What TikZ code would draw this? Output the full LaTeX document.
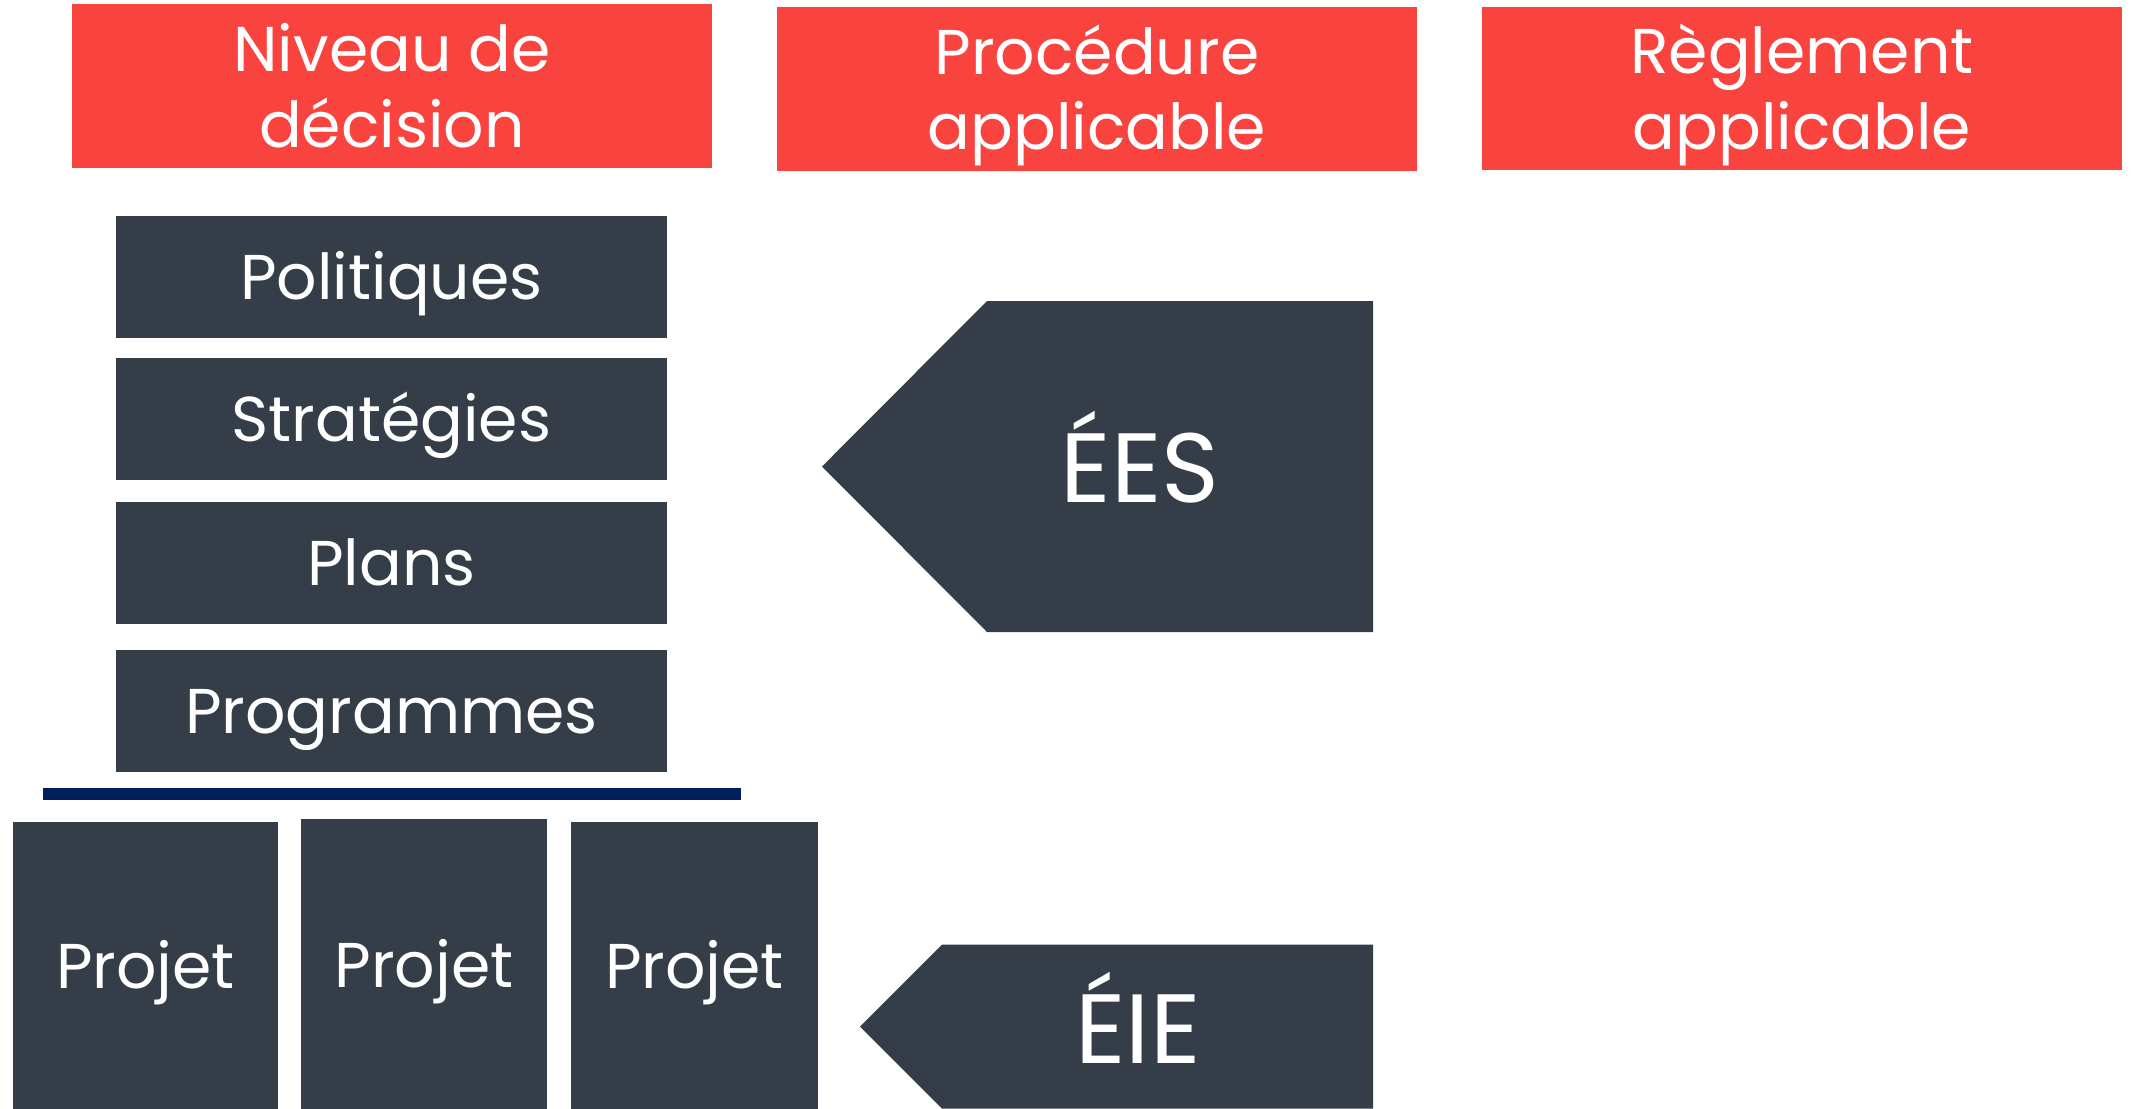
\documentclass[tikz,border=0pt]{standalone}
\usepackage{fontspec}
\setmainfont{Poppins}
\usetikzlibrary{positioning}
\definecolor{rouge}{RGB}{248,67,62}
\definecolor{ardoise}{RGB}{52,61,72}
\definecolor{marine}{RGB}{0,31,91}

\begin{document}
\begin{tikzpicture}[x=0.01cm, y=-0.01cm,
        entete/.style={fill=rouge, text=white, inner sep=0pt, minimum width=6.4cm, minimum height=1.63cm, align=center, font=\fontsize{18}{21.6}\selectfont},
        niveau/.style={fill=ardoise, text=white, inner sep=0pt, minimum width=5.51cm, minimum height=1.215cm, text height=13pt, text depth=0pt, font=\fontsize{18}{21.6}\selectfont},
        projet/.style={fill=ardoise, text=white, inner sep=0pt, minimum height=2.88cm, text height=13pt, text depth=0pt, font=\fontsize{18}{21.6}\selectfont},
        sigle/.style={text=white, inner sep=0pt, text height=20pt, text depth=0pt, font=\fontsize{28}{33}\selectfont}]
        \useasboundingbox (0,0) rectangle (2134,1108);
        % en-tetes
        \node[entete] (dec) at (392,86) {Niveau de\\décision};
        \node[entete, minimum height=1.64cm, text depth=1pt] (proc) at (1097,89) {Procédure\\applicable};
        \node[entete, text depth=1pt] (regl) at (1802,88.5) {Règlement\\applicable};
        % niveaux de decision
        \node[niveau] (pol) at (391.5,277) {Politiques};
        \node[niveau] (strat) at (391.5,419) {Stratégies};
        \node[niveau] (plans) at (391.5,563) {Plans};
        \node[niveau] (prog) at (391.5,711) {Programmes};
        \node[fill=marine, inner sep=0pt, minimum width=6.98cm, minimum height=0.125cm] (sep) at (392,794) {};
        \node[projet, minimum width=2.65cm] (proj1) at (145.5,966) {Projet};
        \node[projet, minimum width=2.46cm, minimum height=2.91cm] (proj2) at (424,964.5) {Projet};
        \node[projet, minimum width=2.47cm] (proj3) at (694.5,966) {Projet};
        % procedures
        \fill[ardoise] (987,301) -- (1373,301) -- (1373,632) -- (987,632) -- (822,466.5) -- cycle;
        \node[sigle] (ees) at (1140,467) {ÉES};
        \fill[ardoise] (942,944.5) -- (1373,944.5) -- (1373,1108.5) -- (942,1108.5) -- (860,1026.5) -- cycle;
        \node[sigle] (eie) at (1138,1028) {ÉIE};
    \end{tikzpicture}
\end{document}
